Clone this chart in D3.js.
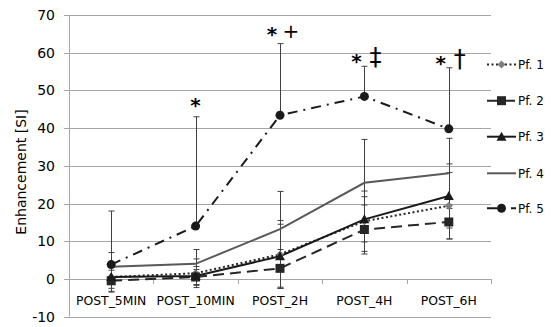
<!DOCTYPE html>
<html>
<head>
<meta charset="utf-8">
<script src="https://cdn.jsdelivr.net/npm/d3@7"></script>
<style>
  body { margin: 0; background: #fff; }
  text { font-family: "DejaVu Sans", sans-serif; }
</style>
</head>
<body>
<script>
// Chart data
var categories = ["POST_5MIN", "POST_10MIN", "POST_2H", "POST_4H", "POST_6H"];
var seriesNames = ["Pf. 1", "Pf. 2", "Pf. 3", "Pf. 4", "Pf. 5"];

var pf1 = [0.5, 1.5, 6.5, 15.3, 19.4];
var pf2 = [-0.5, 0.5, 2.8, 13.1, 15.1];
var pf3 = [0.5, 0.8, 6.0, 15.8, 22.0];
var pf4 = [3.2, 4.0, 13.2, 25.5, 28.0];
var pf5 = [3.8, 14.0, 43.4, 48.4, 39.8];

// error bars (upper / lower)
var errUp = [
  [3.0, 3.8, 9.0, 8.0, 8.8],
  [2.8, 2.0, 5.0, 6.5, 4.5],
  [4.0, 2.5, 8.5, 6.0, 8.5],
  [3.8, 3.8, 10.0, 11.5, 9.3],
  [14.2, 29.0, 19.0, 8.0, 16.2]
];
var errDown = [
  [3.0, 3.8, 9.0, 8.0, 8.8],
  [2.8, 2.0, 5.0, 6.5, 4.5],
  [4.0, 2.5, 8.5, 6.0, 8.5],
  [3.8, 3.8, 10.0, 11.5, 9.3],
  [0, 0, 0, 0, 0]
];

var yTicks = [-10, 0, 10, 20, 30, 40, 50, 60, 70];

// significance marks
var annotCats = ["POST_10MIN", "POST_2H", "POST_4H", "POST_6H"];
var annotMarks = ["", "+", "\u2021", "\u2020"];

var allSeries = [pf1, pf2, pf3, pf4, pf5];

//Width and height
var w = 552;
var h = 327;
var margin = {left: 69, right: 61, top: 15, bottom: 10};

var svg = d3.select("body")
            .append("svg")
            .attr("width", w)
            .attr("height", h);

var x = d3.scaleBand()
          .domain(categories)
          .range([margin.left, w - margin.right]);

var y = d3.scaleLinear()
          .domain([-10, 70])
          .range([316.6, margin.top]);

//Gridlines
svg.selectAll("line.grid")
   .data(yTicks)
   .enter()
   .append("line")
   .attr("class", "grid")
   .attr("x1", margin.left - 5)
   .attr("x2", w - margin.right)
   .attr("y1", (d) => Math.round(y(d)) + 0.5)
   .attr("y2", (d) => Math.round(y(d)) + 0.5)
   .attr("stroke", "#a6a6a6")
   .attr("stroke-width", 1);

//Y axis line
svg.append("line")
   .attr("x1", margin.left + 0.5)
   .attr("x2", margin.left + 0.5)
   .attr("y1", y(70))
   .attr("y2", y(-10))
   .attr("stroke", "#a6a6a6");

//Y tick labels
svg.selectAll("text.ytick")
   .data(yTicks)
   .enter()
   .append("text")
   .attr("class", "ytick")
   .attr("x", margin.left - 14)
   .attr("y", (d) => y(d))
   .attr("dy", "0.36em")
   .attr("text-anchor", "end")
   .attr("font-size", "14px")
   .attr("fill", "#000")
   .text((d) => d);

//X axis ticks at zero
var bounds = categories.map((c) => x(c)).concat([w - margin.right]);
svg.selectAll("line.xtick")
   .data(bounds)
   .enter()
   .append("line")
   .attr("class", "xtick")
   .attr("x1", (d) => Math.round(d) + 0.5)
   .attr("x2", (d) => Math.round(d) + 0.5)
   .attr("y1", Math.round(y(0)))
   .attr("y2", Math.round(y(0)) + 5)
   .attr("stroke", "#a6a6a6");

//Category labels
svg.selectAll("text.cat")
   .data(categories)
   .enter()
   .append("text")
   .attr("class", "cat")
   .attr("x", (d) => x(d) + x.bandwidth() / 2)
   .attr("y", y(0) + 26)
   .attr("text-anchor", "middle")
   .attr("font-size", "12.4px")
   .text((d) => d);

//Axis title
svg.append("text")
   .attr("transform", "translate(26," + 172 + ") rotate(-90)")
   .attr("text-anchor", "middle")
   .attr("font-size", "14px")
   .text("Enhancement [SI]");

var cx = (i) => x(categories[i]) + x.bandwidth() / 2;

//Line styles
var styles = [
  {stroke: "#262626", dash: "2,2.5", width: 2},
  {stroke: "#262626", dash: "11,6", width: 2},
  {stroke: "#1a1a1a", dash: null, width: 2},
  {stroke: "#595959", dash: null, width: 2},
  {stroke: "#1a1a1a", dash: "10,6,2,6", width: 2}
];

var line = d3.line()
             .x((d, i) => cx(i))
             .y((d) => y(d));

//Error bars
allSeries.forEach((s, k) => {
    var g = svg.append("g");
    s.forEach((v, i) => {
        var top = y(v + errUp[k][i]);
        var bot = y(v - errDown[k][i]);
        var xx = Math.round(cx(i)) + 0.5;
        g.append("line").attr("x1", xx).attr("x2", xx)
         .attr("y1", top).attr("y2", bot)
         .attr("stroke", "#404040").attr("stroke-width", 1);
        g.append("line").attr("x1", xx - 3).attr("x2", xx + 3)
         .attr("y1", top).attr("y2", top)
         .attr("stroke", "#404040").attr("stroke-width", 1);
        if (errDown[k][i] > 0) {
            g.append("line").attr("x1", xx - 3).attr("x2", xx + 3)
             .attr("y1", bot).attr("y2", bot)
             .attr("stroke", "#404040").attr("stroke-width", 1);
        }
    });
});

//Lines
allSeries.forEach((s, k) => {
    svg.append("path")
       .datum(s)
       .attr("d", line)
       .attr("fill", "none")
       .attr("stroke", styles[k].stroke)
       .attr("stroke-width", styles[k].width)
       .attr("stroke-dasharray", styles[k].dash);
});

//Markers
function drawMarker(g, k, px, py) {
    if (k == 0) {
        g.append("path")
         .attr("d", "M" + px + "," + (py - 4) + "L" + (px + 4) + "," + py + "L" + px + "," + (py + 4) + "L" + (px - 4) + "," + py + "Z")
         .attr("fill", "#7f7f7f");
    } else if (k == 1) {
        g.append("rect")
         .attr("x", px - 4.5).attr("y", py - 4.5)
         .attr("width", 9).attr("height", 9)
         .attr("fill", "#262626");
    } else if (k == 2) {
        g.append("path")
         .attr("d", "M" + px + "," + (py - 5) + "L" + (px + 5) + "," + (py + 4) + "L" + (px - 5) + "," + (py + 4) + "Z")
         .attr("fill", "#1a1a1a");
    } else if (k == 4) {
        g.append("circle")
         .attr("cx", px).attr("cy", py).attr("r", 4.5)
         .attr("fill", "#1a1a1a");
    }
}

allSeries.forEach((s, k) => {
    var g = svg.append("g");
    s.forEach((v, i) => drawMarker(g, k, cx(i), y(v)));
});

//Significance annotations
annotCats.forEach((c, j) => {
    var i = categories.indexOf(c);
    var topVal = d3.max(allSeries, (s, k) => s[i] + errUp[k][i]);
    var ty = y(topVal);
    var xc = cx(i);
    if (annotMarks[j] == "") {
        svg.append("text")
           .attr("x", xc).attr("y", ty - 5)
           .attr("text-anchor", "middle")
           .attr("font-size", "20px").attr("font-weight", "bold")
           .text("*");
    } else {
        var isPlus = annotMarks[j] == "+";
        svg.append("text")
           .attr("x", xc - 8).attr("y", isPlus ? ty - 3 : ty + 2)
           .attr("text-anchor", "middle")
           .attr("font-size", "20px").attr("font-weight", "bold")
           .text("*");
        svg.append("text")
           .attr("x", xc + 11).attr("y", isPlus ? ty - 6 : ty - 1)
           .attr("text-anchor", "middle")
           .attr("font-size", isPlus ? "20px" : "24px")
           .text(annotMarks[j]);
    }
});

//Legend
var legY = [64.5, 100.7, 136.7, 173.3, 208.3];
var leg = svg.append("g");
seriesNames.forEach((name, k) => {
    var ly = legY[k];
    leg.append("line")
       .attr("x1", 487).attr("x2", 516)
       .attr("y1", ly).attr("y2", ly)
       .attr("stroke", styles[k].stroke)
       .attr("stroke-width", styles[k].width)
       .attr("stroke-dasharray", styles[k].dash);
    drawMarker(leg, k, 501.5, ly);
    leg.append("text")
       .attr("x", 518)
       .attr("y", ly)
       .attr("dy", "0.36em")
       .attr("font-size", "12px")
       .text(name);
});
</script>
</body>
</html>
